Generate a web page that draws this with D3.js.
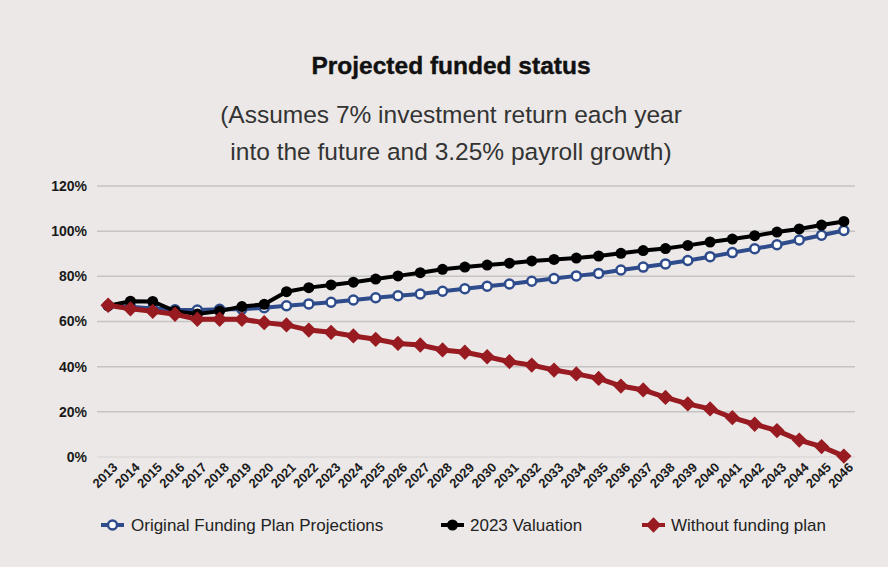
<!DOCTYPE html>
<html>
<head>
<meta charset="utf-8">
<script src="https://cdn.jsdelivr.net/npm/d3@7"></script>
<style>
  body { margin: 0; background: #fff; }
  svg { display: block; }
</style>
</head>
<body>
<svg id="chart" width="893" height="572"></svg>
<script>
  var years = d3.range(2013, 2047).map(String);

  // Original Funding Plan Projections
  var original = [67, 66.5, 65.8, 65.2, 65.1, 65.4, 65.4, 66.1, 67, 67.8, 68.5, 69.5, 70.5, 71.4,
    72.2, 73.4, 74.5, 75.6, 76.6, 77.8, 79, 80.2, 81.3, 82.8, 84.1, 85.5, 87, 88.7,
    90.5, 92.2, 94, 96.1, 98.2, 100.3];
  // 2023 Valuation
  var valuation = [67, 69, 68.9, 64.6, 63.3, 64.6, 66.6, 67.6, 73.2, 75, 76.2, 77.4, 78.8, 80.2,
    81.6, 83.1, 84.1, 85, 85.8, 86.8, 87.5, 88.1, 89, 90.2, 91.4, 92.3, 93.7, 95.2,
    96.5, 98, 99.6, 101, 102.7, 104.3];
  // Without funding plan
  var without = [67.2, 65.6, 64.5, 63.2, 61, 61, 61, 59.5, 58.5, 56.2, 55.2, 53.6, 52.1, 50.3,
    49.6, 47.4, 46.4, 44.4, 42.2, 40.7, 38.5, 36.8, 34.8, 31.4, 29.7, 26.4, 23.5, 21.3,
    17.4, 14.5, 11.7, 7.5, 4.6, 0.4];

  var yTicks = [0, 20, 40, 60, 80, 100, 120];
  var seriesNames = ["Original Funding Plan Projections", "2023 Valuation", "Without funding plan"];

  var svg = d3.select("#chart");

  // background
  svg.append("rect").attr("width", 888).attr("height", 567).attr("fill", "#ebe8e7");

  // titles
  svg.append("text")
    .attr("x", 451).attr("y", 74)
    .attr("text-anchor", "middle")
    .style("font-family", "Liberation Sans, Arial, sans-serif")
    .style("font-weight", "bold")
    .style("font-size", "24.5px")
    .attr("fill", "#111")
    .attr("stroke", "#111").attr("stroke-width", 0.4)
    .text("Projected funded status");

  var sub = ["(Assumes 7% investment return each year", "into the future and 3.25% payroll growth)"];
  svg.selectAll("text.sub").data(sub).enter().append("text")
    .attr("class", "sub")
    .attr("x", 451)
    .attr("y", function(d, i) { return 123 + i * 37; })
    .attr("text-anchor", "middle")
    .style("font-family", "Liberation Sans, Arial, sans-serif")
    .style("font-size", "24.5px")
    .attr("fill", "#333")
    .text(function(d) { return d; });

  var x = d3.scaleBand().domain(years).range([97, 855]);
  var y = d3.scaleLinear().domain([0, 120]).range([457, 186]);
  var cx = function(d, i) { return x(years[i]) + x.bandwidth() / 2; };

  // grid
  svg.append("g").selectAll("line").data(yTicks).enter().append("line")
    .attr("x1", 97).attr("x2", 855)
    .attr("y1", function(d) { return y(d); })
    .attr("y2", function(d) { return y(d); })
    .attr("stroke", function(d) { return d === 0 ? "#dddad8" : "#c6c4c2"; })
    .attr("stroke-width", 1.5);

  // y axis
  var yAxis = svg.append("g")
    .attr("transform", "translate(87,0)")
    .call(d3.axisLeft(y).tickValues(yTicks).tickSize(0).tickPadding(0)
      .tickFormat(function(d) { return d + "%"; }));
  yAxis.select(".domain").remove();
  yAxis.selectAll("text")
    .style("font-family", "Liberation Sans, Arial, sans-serif")
    .style("font-weight", "bold")
    .style("font-size", "14px")
    .attr("fill", "#1a1a1a");

  // x axis
  var xAxis = svg.append("g")
    .attr("transform", "translate(0,461)")
    .call(d3.axisBottom(x).tickSize(0).tickPadding(0));
  xAxis.select(".domain").remove();
  xAxis.selectAll("text")
    .style("font-family", "Liberation Sans, Arial, sans-serif")
    .style("font-weight", "bold")
    .style("font-size", "13px")
    .attr("fill", "#1a1a1a")
    .attr("text-anchor", "end")
    .attr("dy", "0.35em")
    .attr("transform", "translate(7,4) rotate(-45)");

  var line = d3.line().x(cx).y(function(d) { return y(d); });

  // original
  svg.append("path").datum(original)
    .attr("d", line).attr("fill", "none")
    .attr("stroke", "#2e4b8b").attr("stroke-width", 4);
  svg.append("g").selectAll("circle").data(original).enter().append("circle")
    .attr("cx", cx).attr("cy", function(d) { return y(d); })
    .attr("r", 4.5).attr("fill", "#fff")
    .attr("stroke", "#2e4b8b").attr("stroke-width", 2.5);

  // 2023 valuation
  svg.append("path").datum(valuation)
    .attr("d", line).attr("fill", "none")
    .attr("stroke", "#000").attr("stroke-width", 4);
  svg.append("g").selectAll("circle").data(valuation).enter().append("circle")
    .attr("cx", cx).attr("cy", function(d) { return y(d); })
    .attr("r", 5.5).attr("fill", "#000");

  // without funding plan
  var diamond = d3.symbol().type(d3.symbolDiamond2).size(150);
  svg.append("path").datum(without)
    .attr("d", line).attr("fill", "none")
    .attr("stroke", "#981b21").attr("stroke-width", 5);
  svg.append("g").selectAll("path").data(without).enter().append("path")
    .attr("d", diamond)
    .attr("transform", function(d, i) { return "translate(" + cx(d, i) + "," + y(d) + ")"; })
    .attr("fill", "#981b21");

  // legend
  var legendX = [101, 441, 642];
  var leg = svg.append("g").selectAll("g").data(seriesNames).enter().append("g")
    .attr("transform", function(d, i) { return "translate(" + legendX[i] + ",525)"; });
  leg.append("line").attr("x1", 0).attr("x2", 23)
    .attr("stroke", function(d, i) { return ["#2e4b8b", "#000", "#981b21"][i]; })
    .attr("stroke-width", 4);
  leg.filter(function(d, i) { return i === 0; }).append("circle")
    .attr("cx", 11.5).attr("r", 4.5).attr("fill", "#fff")
    .attr("stroke", "#2e4b8b").attr("stroke-width", 2.5);
  leg.filter(function(d, i) { return i === 1; }).append("circle")
    .attr("cx", 11.5).attr("r", 5.5).attr("fill", "#000");
  leg.filter(function(d, i) { return i === 2; }).append("path")
    .attr("d", diamond).attr("transform", "translate(11.5,0)").attr("fill", "#981b21");
  leg.append("text")
    .attr("x", function(d, i) { return [30, 29, 29][i]; })
    .attr("dy", "0.35em")
    .style("font-family", "Liberation Sans Narrow, Arial Narrow, sans-serif")
    .style("font-size", "17px")
    .attr("fill", "#222")
    .text(function(d) { return d; });
</script>
</body>
</html>
